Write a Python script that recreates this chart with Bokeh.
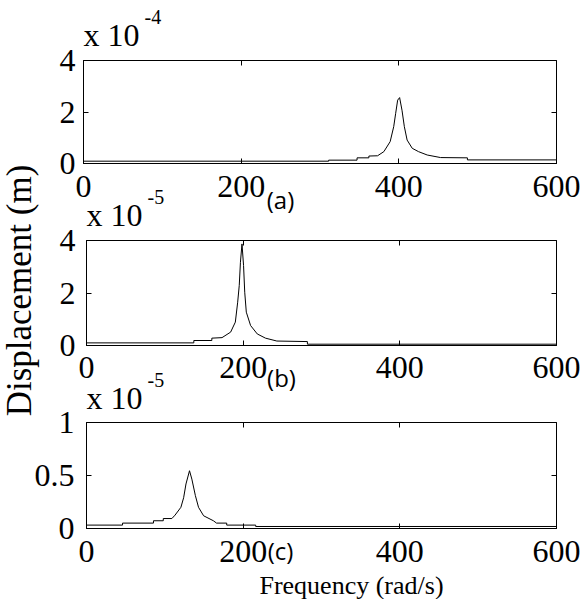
import math
from bokeh.plotting import figure
from bokeh.models import Range1d, FixedTicker, LinearAxis, Label
from bokeh.embed import file_html
from bokeh.resources import INLINE

# ---------------- data ----------------
# (a) displacement in units of 1e-4 m
freq_a = [0, 311, 311, 347, 347, 362, 362, 373, 381, 389, 393.5, 396, 398.5, 401,
          404, 407, 410.5, 417, 425, 436, 453, 487, 487, 600]
disp_a = [0.09, 0.09, 0.13, 0.13, 0.22, 0.22, 0.29, 0.30, 0.46, 0.85, 1.43, 1.95, 2.46, 2.56,
          2.07, 1.43, 0.91, 0.59, 0.46, 0.33, 0.23, 0.22, 0.14, 0.14]
# (b) displacement in units of 1e-5 m
freq_b = [0, 137, 137, 160, 160, 173, 184, 190, 193, 195, 196.5, 198.5, 200.5, 202,
          204, 209.5, 218, 228.5, 243, 282, 282, 600]
disp_b = [0.10, 0.10, 0.19, 0.19, 0.28, 0.30, 0.51, 0.89, 1.65, 2.29, 3.17, 3.87, 3.05, 2.03,
          1.27, 0.76, 0.44, 0.28, 0.17, 0.15, 0.05, 0.05]
# (c) displacement in units of 1e-5 m
freq_c = [0, 46, 46, 85.5, 85.5, 98, 98, 109, 113, 120.5, 124, 127, 131.5, 134.5,
          139, 143, 149.5, 162, 166, 179, 179, 216, 216, 600]
disp_c = [0.032, 0.032, 0.051, 0.051, 0.073, 0.073, 0.094, 0.094, 0.126, 0.20, 0.29, 0.42, 0.545, 0.466,
          0.31, 0.20, 0.12, 0.073, 0.051, 0.051, 0.032, 0.032, 0.019, 0.019]

x_ticks = [0, 200, 400, 600]
y_ticks_ab = [0, 2, 4]
y_ticks_c = [0, 0.5, 1]
y_tick_labels_c = {0: "0", 0.5: "0.5", 1: "1"}
exponents = ["-4", "-5", "-5"]
panel_tags = ["(a)", "(b)", "(c)"]
x_title = "Frequency (rad/s)"
y_title = "Displacement (m)"

SERIF = "Liberation Serif"
TICK_FS = "32px"
W, H = 585, 599


def place(top):
    return {"position": "absolute", "left": "0px", "top": f"{top}px"}


def panel(freq, disp, ymax, yticks, page_top, left, top, frame_h, bottom, xstand, ystand,
          overrides=None):
    p = figure(width=W, height=top + frame_h + bottom,
               x_range=Range1d(0, 600), y_range=Range1d(0, ymax),
               output_backend="svg", toolbar_location=None, tools="",
               min_border_left=left, min_border_right=29,
               min_border_top=top, min_border_bottom=bottom,
               styles=place(page_top))
    p.grid.visible = False
    p.outline_line_color = "black"
    p.outline_line_width = 1
    p.background_fill_color = "white"
    p.border_fill_color = "white"
    for ax in p.xaxis:
        ax.ticker = FixedTicker(ticks=x_ticks)
        ax.major_label_standoff = xstand
    for ax in p.yaxis:
        ax.ticker = FixedTicker(ticks=yticks)
        ax.major_label_standoff = ystand
        if overrides:
            ax.major_label_overrides = overrides
    for ax in p.axis:
        ax.major_tick_in = 5
        ax.major_tick_out = 0
        ax.minor_tick_line_color = None
        ax.axis_line_color = "black"
        ax.major_tick_line_color = "black"
        ax.major_label_text_font = SERIF
        ax.major_label_text_font_size = TICK_FS
        ax.major_label_text_color = "black"
    # inner ticks on the top and right edges (no labels drawn)
    top_ax = LinearAxis(ticker=FixedTicker(ticks=x_ticks), major_label_text_font_size="1px",
                        major_label_text_color=None, major_label_standoff=0,
                        major_tick_in=5, major_tick_out=0,
                        minor_tick_line_color=None, axis_line_color=None)
    right_ax = LinearAxis(ticker=FixedTicker(ticks=yticks), major_label_text_font_size="1px",
                          major_label_text_color=None, major_label_standoff=0,
                          major_tick_in=5, major_tick_out=0,
                          minor_tick_line_color=None, axis_line_color=None)
    p.add_layout(top_ax, "above")
    p.add_layout(right_ax, "right")
    p.line(freq, disp, line_color="black", line_width=1)
    return p


pa = panel(freq_a, disp_a, 4, y_ticks_ab, 0, 83, 60, 103, 57, 12, 8)
pb = panel(freq_b, disp_b, 4, y_ticks_ab, 220, 86, 20, 105, 60, 11, 11)
pc = panel(freq_c, disp_c, 1, y_ticks_c, 405, 86, 17, 106, 71, 12, 12, y_tick_labels_c)

# transparent text layer laid over the whole page (page-pixel coordinates)
ov_style = place(0)
ov_style.update({"z-index": "10", "pointer-events": "none"})
ov = figure(width=W, height=H, x_range=Range1d(0, W), y_range=Range1d(H, 0),
            output_backend="svg", toolbar_location=None, tools="", min_border=0,
            x_axis_location=None, y_axis_location=None, styles=ov_style)
ov.grid.visible = False
ov.outline_line_color = None
ov.background_fill_color = None
ov.border_fill_color = None


def txt(x, y, text, size, font=SERIF, align="left", baseline="alphabetic", angle=0):
    ov.add_layout(Label(x=x, y=y, text=text, text_font=font, text_font_size=size,
                        text_color="black", text_align=align, text_baseline=baseline,
                        angle=angle))


# "x 10^n" multipliers
for (bx, by), e in zip([(83, 34), (86, 214), (86, 397)], exponents):
    txt(bx, by, "x 10", "32px")
    txt(bx + 61, by - 18, e, "20px")

# panel tags
for (cx, cy), t in zip([(280, 199), (281, 377), (280, 550)], panel_tags):
    txt(cx, cy, t, "24px", font="Open Sans", align="center", baseline="middle")

# axis titles
txt(351, 585, x_title, "26px", align="center")
txt(19, 290, y_title, "35px", align="center", angle=math.pi / 2)

open("out.html", "w").write(file_html([pa, pb, pc, ov], INLINE))
